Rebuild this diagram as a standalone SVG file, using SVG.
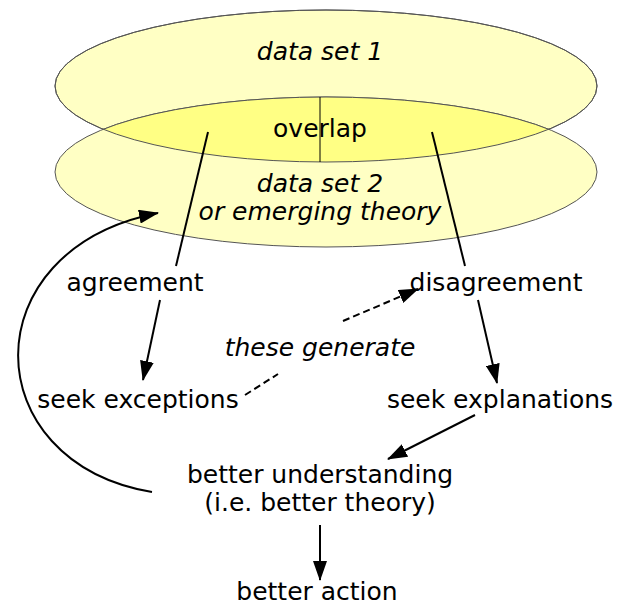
<svg xmlns="http://www.w3.org/2000/svg" width="620" height="607" viewBox="0 0 620 607">
<style>
text{font-family:"DejaVu Sans","Verdana",sans-serif;font-size:25px;fill:#000;text-anchor:middle}
.it{font-style:italic}
.ln{fill:none;stroke:#000;stroke-width:2}
.dash{stroke-dasharray:7,4}
.ell{stroke:#555;stroke-width:1}
</style>
<defs>
<marker id="ah" viewBox="0 0 20 14" refX="19" refY="7" markerWidth="20" markerHeight="14" markerUnits="userSpaceOnUse" orient="auto">
<path d="M0,0 L20,7 L0,14 Z" fill="#000"/>
</marker>
<clipPath id="c1"><ellipse cx="326" cy="86" rx="271" ry="76"/></clipPath>
</defs>
<g id="dataset1"><ellipse class="ell" cx="326" cy="86" rx="271" ry="76" fill="#ffffc4"/>
<text class="it" x="320" y="60">data set 1</text></g>
<g id="dataset2"><ellipse class="ell" cx="326" cy="172" rx="271" ry="75" fill="#ffffc4"/>
<text class="it" x="320" y="192">data set 2</text>
<text class="it" x="320" y="220">or emerging theory</text></g>
<g id="overlap"><ellipse cx="326" cy="172" rx="271" ry="75" fill="#ffff84" clip-path="url(#c1)"/>
<ellipse class="ell" cx="326" cy="86" rx="271" ry="76" fill="none"/>
<ellipse class="ell" cx="326" cy="172" rx="271" ry="75" fill="none" clip-path="url(#c1)"/>
<line x1="320" y1="97" x2="320" y2="162" stroke="#000" stroke-width="1"/>
<text x="320" y="137">overlap</text></g>
<g id="agreement"><text x="135" y="291">agreement</text></g>
<g id="disagreement"><text x="496" y="291">disagreement</text></g>
<g id="these-generate"><text class="it" x="320" y="356">these generate</text></g>
<g id="seek-exceptions"><text x="138" y="408">seek exceptions</text></g>
<g id="seek-explanations"><text x="500" y="408">seek explanations</text></g>
<g id="better-understanding"><text x="320" y="483">better understanding</text>
<text x="320" y="511">(i.e. better theory)</text></g>
<g id="better-action"><text x="317" y="600">better action</text></g>
<g id="connectors">
<line class="ln" x1="208" y1="132" x2="176" y2="266"/>
<line class="ln" x1="432" y1="132" x2="465" y2="266"/>
<line class="ln" x1="160" y1="300" x2="143" y2="380" marker-end="url(#ah)"/>
<line class="ln" x1="478" y1="300" x2="497" y2="383" marker-end="url(#ah)"/>
<line class="ln dash" x1="245" y1="395" x2="278" y2="374"/>
<line class="ln dash" x1="343" y1="321" x2="418" y2="289" marker-end="url(#ah)"/>
<line class="ln" x1="475" y1="415" x2="388" y2="459" marker-end="url(#ah)"/>
<line class="ln" x1="320" y1="525" x2="320" y2="580" marker-end="url(#ah)"/>
<path class="ln" d="M152,492 C-25,462 -30,250 158,213" marker-end="url(#ah)"/>
</g>
</svg>
